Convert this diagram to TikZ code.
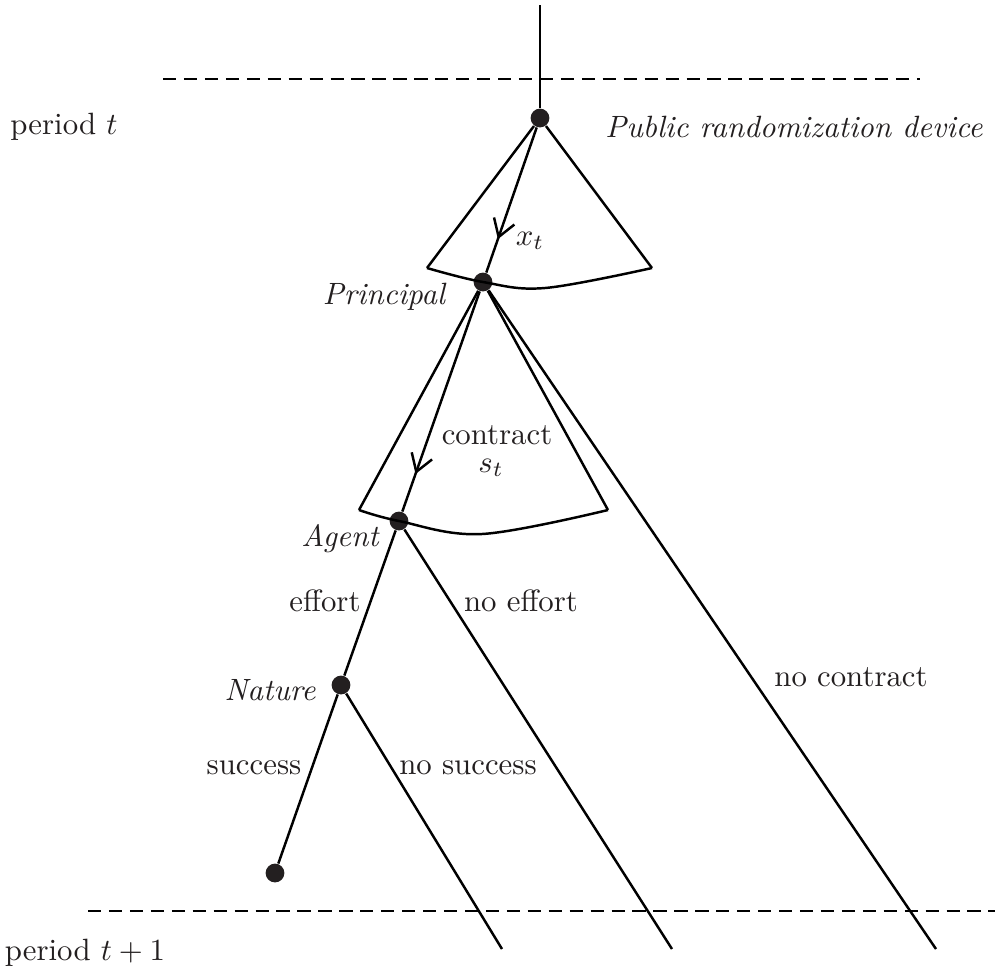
\documentclass[tikz,border=0pt]{standalone}
\usetikzlibrary{arrows.meta,decorations.markings}
\definecolor{ink}{RGB}{35,31,32}
\begin{document}
\begin{tikzpicture}[x=0.01141cm,y=-0.01141cm,
  dot/.style={circle,fill=ink,inner sep=0pt,minimum size=6.1pt},
  lbl/.style={text=ink,inner sep=0pt},
  branch/.style={line width=0.8pt},
  period/.style={line width=0.85pt,dash pattern=on 4.3pt off 2.5pt},
  midarrow/.style={postaction={decorate,decoration={markings,
     mark=at position #1 with {\arrow{Straight Barb[length=5.5pt,width=7pt,line width=0.8pt]}}}}}]
\useasboundingbox (0,0) rectangle (995,975);
% nodes
\node[dot] (PRD) at (540,118) {};
\node[dot] (P) at (483,282) {};
\node[dot] (A) at (399,521) {};
\node[dot] (N) at (341,685) {};
\node[dot] (S) at (275,873) {};
\coordinate (top) at (540,5);
\coordinate (L1) at (427,268);
\coordinate (R1) at (652,268);
\coordinate (low1) at (545,288);
\coordinate (L2) at (359,510);
\coordinate (R2) at (608,510);
\coordinate (low2) at (482,534);
\coordinate (e1) at (502,949);
\coordinate (e2) at (672,949);
\coordinate (e3) at (936,949);
\coordinate (d1a) at (163,79);
\coordinate (d1b) at (920,79);
\coordinate (d2a) at (88,911);
\coordinate (d2b) at (995,911);
% period lines
\draw[period] (d1a) -- (d1b);
\draw[period] (d2a) -- (d2b);
% tree
\draw[branch] (top) -- (PRD);
\draw[branch] (PRD) -- (L1);
\draw[branch] (PRD) -- (R1);
\draw[branch] plot[smooth,tension=0.6] coordinates {(L1) (P.center) (low1) (R1)};
\draw[branch,midarrow=0.77] (PRD) -- (P);
\draw[branch] (P) -- (L2);
\draw[branch] (P) -- (R2);
\draw[branch] plot[smooth,tension=0.6] coordinates {(L2) (A.center) (low2) (R2)};
\draw[branch,midarrow=0.83] (P) -- (A);
\draw[branch] (P) -- (e3);
\draw[branch] (A) -- (N);
\draw[branch] (A) -- (e2);
\draw[branch] (N) -- (S);
\draw[branch] (N) -- (e1);
% labels
\node[lbl] (lt) at (64,127) {period $t$};
\node[lbl] (lt1) at (85,953) {period $t+1$};
\node[lbl] (lprd) at (794,127) {\itshape Public randomization device};
\node[lbl] (lx) at (530,241) {$x_t$};
\node[lbl] (lp) at (384,297) {\itshape Principal};
\node[lbl] (lc) at (497,435) {contract};
\node[lbl] (ls) at (491,468) {$s_t$};
\node[lbl] (la) at (340,539) {\itshape Agent};
\node[lbl] (le) at (325,601) {effort};
\node[lbl] (lne) at (521,601) {no effort};
\node[lbl] (ln) at (270,690) {\itshape Nature};
\node[lbl] (lnc) at (851,677) {no contract};
\node[lbl] (lsu) at (254,768) {success};
\node[lbl] (lns) at (468,768) {no success};
\end{tikzpicture}
\end{document}
